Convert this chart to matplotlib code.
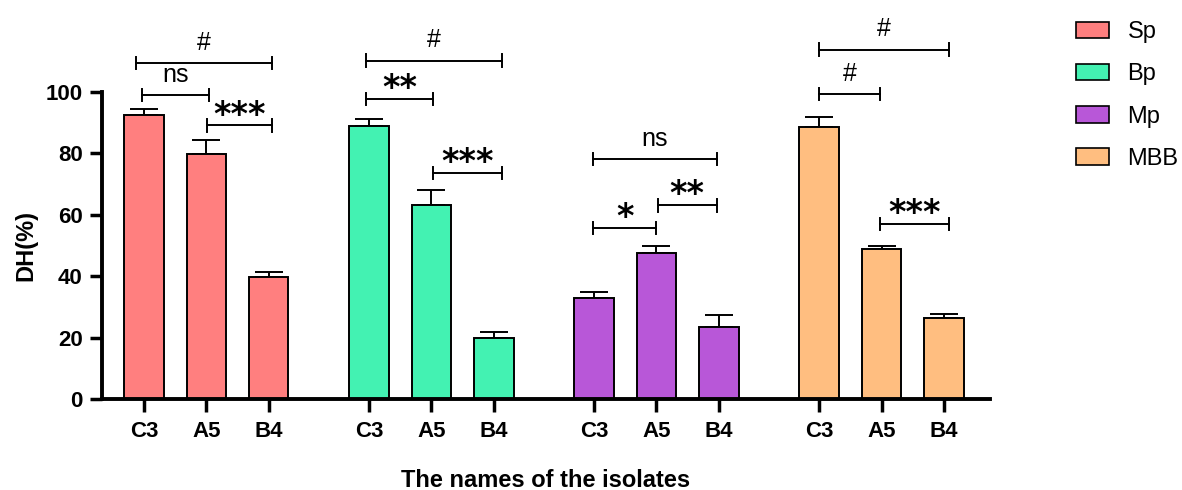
import numpy as np
import matplotlib.pyplot as plt
from matplotlib.patches import Patch

plt.rcParams['font.family'] = ['Liberation Sans', 'DejaVu Sans']

groups = ['Sp', 'Bp', 'Mp', 'MBB']
isolates = ['C3', 'A5', 'B4']
colors = ['#FF7F7F', '#43F2B2', '#B857D8', '#FFBE80']

# DH(%) values per group, in order C3, A5, B4
sp_vals = [92.3, 79.8, 39.8]
bp_vals = [88.8, 63.2, 19.9]
mp_vals = [32.9, 47.4, 23.4]
mbb_vals = [88.4, 48.8, 26.3]
sp_err = [2.0, 4.5, 1.5]
bp_err = [2.2, 4.7, 1.9]
mp_err = [1.9, 2.4, 4.0]
mbb_err = [3.4, 0.9, 1.3]

values = [sp_vals, bp_vals, mp_vals, mbb_vals]
errors = [sp_err, bp_err, mp_err, mbb_err]

# significance brackets: (group, start, end (in bar slots), height, label)
brackets = [
    (0, -0.14, 2.05, 109.4, '#'), (0, -0.03, 1.04, 99.0, 'ns'),
    (0, 1.01, 2.05, 89.0, '***'),
    (1, -0.05, 2.14, 110.1, '#'), (1, -0.05, 1.03, 97.6, '**'),
    (1, 1.03, 2.14, 73.5, '***'),
    (2, -0.02, 1.97, 78.0, 'ns'), (2, 1.02, 1.97, 63.0, '**'),
    (2, -0.02, 1.0, 55.7, '*'),
    (3, 0.0, 2.08, 113.7, '#'), (3, 0.0, 0.98, 99.2, '#'),
    (3, 0.98, 2.08, 57.0, '***'),
]

group_step = 3.62
width = 0.64

fig = plt.figure(figsize=(11.82, 4.9), dpi=100)
ax = fig.add_axes([0.0863, 0.1857, 0.751, 0.6272])

xpos_all = []
for g, (vals, errs) in enumerate(zip(values, errors)):
    x = g * group_step + np.arange(len(isolates))
    xpos_all.extend(x)
    ax.bar(x, vals, width=width, color=colors[g], edgecolor='black',
           linewidth=1.4, zorder=2)
    ax.errorbar(x, vals, yerr=[np.zeros(len(errs)), errs], fmt='none',
                ecolor='black', elinewidth=1.4, capsize=10, capthick=1.4,
                zorder=1)

for g, s1, s2, h, lab in brackets:
    x1 = g * group_step + s1
    x2 = g * group_step + s2
    ax.plot([x1, x2], [h, h], color='black', lw=1.4, clip_on=False)
    for xx in (x1, x2):
        ax.plot([xx, xx], [h - 2.0, h + 2.0], color='black', lw=1.4,
                clip_on=False)
    if '*' in lab:
        ax.text((x1 + x2) / 2, h + 0.3, lab, ha='center', va='baseline',
                fontsize=24, fontweight='bold', family='DejaVu Sans',
                clip_on=False)
    else:
        ax.text((x1 + x2) / 2, h + 4.3, lab, ha='center', va='baseline',
                fontsize=18, clip_on=False)

ax.set_xlim(-0.68, 3 * group_step + 2 + 0.74)
ax.set_ylim(0, 100)
ax.set_yticks([0, 20, 40, 60, 80, 100])
ax.set_xticks(xpos_all)
ax.set_xticklabels(isolates * len(groups))
for lab in ax.get_xticklabels() + ax.get_yticklabels():
    lab.set_fontweight('bold')
    lab.set_fontsize(16)
ax.tick_params(axis='both', width=2.5, length=9, direction='out', pad=5)
ax.tick_params(axis='x', pad=7)
ax.spines['top'].set_visible(False)
ax.spines['right'].set_visible(False)
ax.spines['left'].set_linewidth(2.8)
ax.spines['bottom'].set_linewidth(2.8)

ax.set_ylabel('DH(%)', fontsize=17, fontweight='bold', labelpad=6)
ax.set_xlabel('The names of the isolates', fontsize=17, fontweight='bold',
              labelpad=19)

handles = [Patch(facecolor=c, edgecolor='black', linewidth=1.2) for c in colors]
fig.legend(handles, groups, loc='upper left', bbox_to_anchor=(0.896, 0.99),
           frameon=False, fontsize=17, handlelength=1.4, handleheight=0.7,
           labelspacing=0.85, handletextpad=0.8, borderaxespad=0.3)

fig.savefig('out.png', dpi=100)
